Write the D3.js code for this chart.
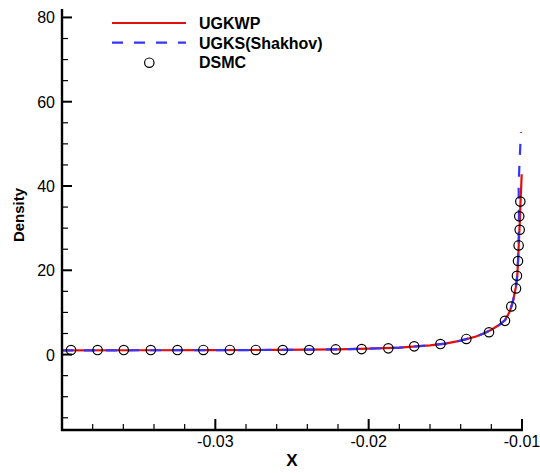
<!DOCTYPE html>
<html><head><meta charset="utf-8">
<script src="https://cdn.jsdelivr.net/npm/d3@7/dist/d3.min.js"></script>
<style>body{margin:0;background:#fff;} svg{display:block;font-family:"Liberation Sans",Arial,sans-serif;}</style>
</head><body>
<svg id="c" width="540" height="473"></svg>
<script>
// ---- data ----
const ugkwpX = [-0.0400,-0.0350,-0.0300,-0.0260,-0.0240,-0.0220,-0.0200,-0.0180,-0.0160,-0.0150,-0.0140,-0.0130,-0.0125,-0.0120,-0.0115,-0.0111,-0.0108,-0.0106,-0.0104,-0.0103,-0.01025,-0.0102,-0.01015,-0.0101,-0.01005,-0.01002];
const ugkwpY = [1.0,1.02,1.05,1.1,1.15,1.25,1.4,1.65,2.2,2.6,3.3,4.3,5.0,5.9,7.0,8.2,10.2,12.5,16,19,23,27,31,36,40,42.8];
const ugksX = [-0.0400,-0.0350,-0.0300,-0.0260,-0.0240,-0.0220,-0.0200,-0.0180,-0.0160,-0.0150,-0.0140,-0.0130,-0.0125,-0.0120,-0.0115,-0.0111,-0.0108,-0.0106,-0.0104,-0.0103,-0.01025,-0.01022,-0.0102,-0.01022,-0.01018,-0.01013,-0.01007];
const ugksY = [1.0,1.02,1.05,1.1,1.15,1.25,1.4,1.65,2.2,2.6,3.3,4.3,5.0,5.9,7.0,8.2,10.2,12.5,16,19,23,27,33,40,44,48,52.8];
const dsmcX = [-0.03941,-0.03768,-0.03597,-0.03421,-0.03247,-0.03078,-0.02905,-0.02736,-0.02560,-0.02388,-0.02215,-0.02046,-0.01872,-0.01703,-0.01532,-0.01363,-0.01215,-0.01111,-0.01070,-0.01039,-0.01033,-0.01026,-0.01022,-0.01015,-0.01018,-0.01011];
const dsmcY = [1.07,1.07,1.07,1.07,1.07,1.1,1.1,1.1,1.07,1.07,1.23,1.3,1.47,1.95,2.5,3.7,5.3,8.0,11.4,15.7,18.7,22.2,25.9,29.6,32.8,36.3];
const seriesNames = ["UGKWP","UGKS(Shakhov)","DSMC"];
const xTickLabels = ["-0.03","-0.02","-0.01"];
const yTickLabels = ["0","20","40","60","80"];

// ---- layout ----
const svg = d3.select("#c");
const L = 62, R = 522, T = 9, B = 430;
const x = d3.scaleLinear().domain([-0.04,-0.01]).range([L,R]);
const y = d3.scaleLinear().domain([-17.9,82]).range([B,T]);

svg.append("clipPath").attr("id","clip").append("rect")
  .attr("x",L).attr("y",T).attr("width",R-L+4).attr("height",B-T);

const g = svg.append("g").attr("clip-path","url(#clip)");
const line2 = d3.line().x(d=>x(d[0])).y(d=>y(d[1])).curve(d3.curveLinear);

g.append("path").datum(ugkwpX.map((v,i)=>[v,ugkwpY[i]]))
  .attr("d",line2).attr("fill","none").attr("stroke","#e01010").attr("stroke-width",2.2);
g.append("path").datum(ugksX.map((v,i)=>[v,ugksY[i]]))
  .attr("d",line2).attr("fill","none").attr("stroke","#3535ff").attr("stroke-width",2.2)
  .attr("stroke-dasharray","11,11");
g.selectAll("circle.d").data(dsmcX.map((v,i)=>[v,dsmcY[i]])).enter().append("circle")
  .attr("cx",d=>x(d[0])).attr("cy",d=>y(d[1])).attr("r",4.7)
  .attr("fill","none").attr("stroke","#000").attr("stroke-width",1.2);

// ---- axes ----
const ax = svg.append("g").attr("stroke","#000");
ax.append("line").attr("x1",L).attr("x2",L).attr("y1",T).attr("y2",B+1).attr("stroke-width",2.4);
ax.append("line").attr("x1",L-1).attr("x2",R+1).attr("y1",B).attr("y2",B).attr("stroke-width",2.4);
d3.range(-15,82,5).forEach(v=>{
  const major = v%20===0;
  ax.append("line").attr("x1",L).attr("x2",L+(major?10:6)).attr("y1",y(v)).attr("y2",y(v))
    .attr("stroke-width",major?2:1.2);
});
d3.range(0,16).forEach(k=>{
  const v = -0.040 + k*0.002;
  const major = k%5===0;
  ax.append("line").attr("x1",x(v)).attr("x2",x(v)).attr("y1",B).attr("y2",B-(major?11:6))
    .attr("stroke-width",major?2:1.2);
});
svg.selectAll("text.yt").data(yTickLabels).enter().append("text")
  .attr("x",55).attr("y",d=>y(+d)+6).attr("text-anchor","end")
  .attr("font-size",16).text(d=>d);
svg.selectAll("text.xt").data(xTickLabels).enter().append("text")
  .attr("x",d=>x(+d)).attr("y",447).attr("text-anchor","middle")
  .attr("font-size",16).text(d=>d);
svg.append("text").attr("x",292).attr("y",466).attr("text-anchor","middle")
  .attr("font-size",17).attr("font-weight","bold").text("X");
svg.append("text").attr("transform","translate(24,215) rotate(-90)").attr("text-anchor","middle")
  .attr("font-size",15).attr("font-weight","bold").text("Density");

// ---- legend ----
const lg = svg.append("g");
lg.append("line").attr("x1",112).attr("x2",186).attr("y1",23).attr("y2",23)
  .attr("stroke","#e01010").attr("stroke-width",2.2);
lg.append("line").attr("x1",112).attr("x2",186).attr("y1",42.7).attr("y2",42.7)
  .attr("stroke","#3535ff").attr("stroke-width",2.2).attr("stroke-dasharray","11,11");
lg.append("circle").attr("cx",149.3).attr("cy",62.7).attr("r",4.7)
  .attr("fill","none").attr("stroke","#000").attr("stroke-width",1.2);
lg.selectAll("text").data(seriesNames).enter().append("text")
  .attr("x",199).attr("y",(d,i)=>29+i*19.7).attr("font-size",16).attr("font-weight","bold").text(d=>d);
</script>
</body></html>
